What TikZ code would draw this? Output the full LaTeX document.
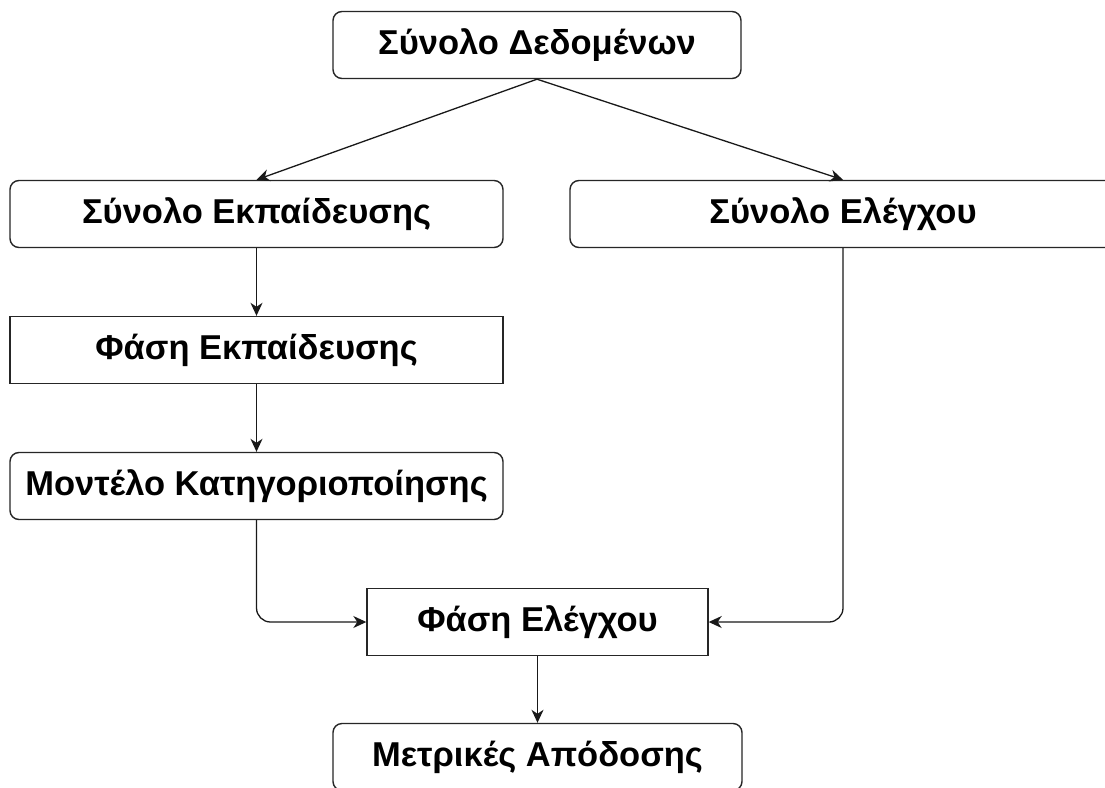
\documentclass[tikz,border=0pt]{standalone}
\usepackage{fontspec}
\setmainfont{Liberation Sans}
\usetikzlibrary{arrows.meta}
\begin{document}
\begin{tikzpicture}[x=1pt,y=-1pt,
  box/.style={draw=black!85, line width=1.4pt, fill=white, inner sep=0pt,
    minimum height=67pt, font=\fontsize{34.5}{40}\selectfont\bfseries},
  rbox/.style={box, rounded corners=9pt},
  conn/.style={line width=1.3pt, draw=black!90, rounded corners=14pt,
    -{Stealth[length=13pt,width=12pt,inset=4pt]}}]
  % canvas
  \fill[white] (0,0) rectangle (1105,787);
  \useasboundingbox (0,0) rectangle (1105,787);

  % boxes
  \node[rbox, minimum width=408pt] (data)       at (537,45)    {Σύνολο Δεδομένων};
  \node[rbox, minimum width=493pt] (trainset)   at (256.5,214) {Σύνολο Εκπαίδευσης};
  \node[rbox, minimum width=546pt] (testset)    at (843,214)   {Σύνολο Ελέγχου};
  \node[box,  minimum width=493pt] (trainphase) at (256.5,350) {Φάση Εκπαίδευσης};
  \node[rbox, minimum width=493pt] (model)      at (256.5,486) {Μοντέλο Κατηγοριοποίησης};
  \node[box,  minimum width=341pt] (testphase)  at (537.5,622) {Φάση Ελέγχου};
  \node[rbox, minimum width=409pt] (metrics)    at (537.5,757) {Μετρικές Απόδοσης};

  % connectors
  \draw[conn] (data.south) -- (trainset.north);
  \draw[conn] (data.south) -- (testset.north);
  \draw[conn] (trainset) -- (trainphase);
  \draw[conn] (trainphase) -- (model);
  \draw[conn] (model.south) |- (testphase.west);
  \draw[conn] (testset.south) |- (testphase.east);
  \draw[conn] (testphase) -- (metrics);
\end{tikzpicture}
\end{document}
